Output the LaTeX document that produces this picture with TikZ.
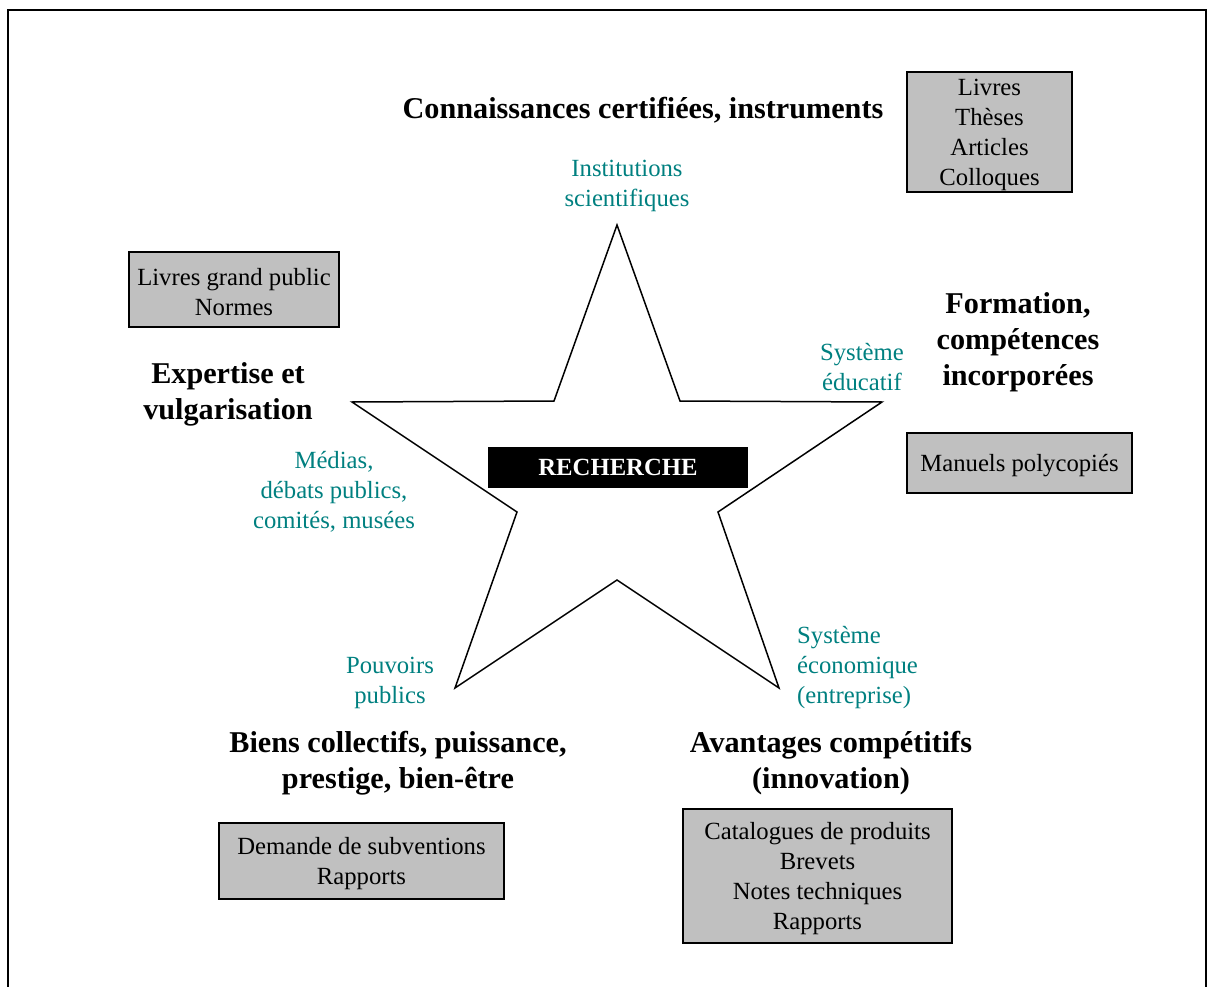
\documentclass[tikz,border=0pt]{standalone}
\usepackage{fontspec}
\setmainfont{Liberation Serif}
\definecolor{tealtxt}{RGB}{0,128,128}
\definecolor{boxgray}{RGB}{192,192,192}
\begin{document}
\begin{tikzpicture}[x=1pt,y=-1pt,
  body/.style={font=\fontsize{24.7}{30}\selectfont, align=center, inner sep=0pt, yshift=-3pt},
  head/.style={font=\bfseries\fontsize{30.2}{36}\selectfont, align=center, inner sep=0pt, yshift=-3pt},
  lab/.style={body, text=tealtxt},
  gbox/.style={draw, line width=2pt, fill=boxgray, inner sep=0pt},
  starline/.style={line width=1.5pt, line join=miter}]
\useasboundingbox (0,0) rectangle (1207,987);
% frame
\draw[line width=2pt] (8,987) -- (8,10) -- (1206,10) -- (1206,987);
% star
\coordinate (s1) at (617,225);
\coordinate (s2) at (680,401);
\coordinate (s3) at (882,402);
\coordinate (s4) at (718,512);
\coordinate (s5) at (779,688);
\coordinate (s6) at (617,580);
\coordinate (s7) at (455,688);
\coordinate (s8) at (517,512);
\coordinate (s9) at (352,402);
\coordinate (s10) at (554,401);
\draw[starline] (s1) -- (s2) -- (s3) -- (s4) -- (s5) -- (s6) -- (s7) -- (s8) -- (s9) -- (s10) -- cycle;
% centre
\node[fill=black, minimum width=260pt, minimum height=41pt, inner sep=0pt,
  text=white, font=\bfseries\fontsize{24.7}{30}\selectfont] (rech) at (618,467.5) {RECHERCHE};
% headings
\node[head] (h1) at (643,107) {Connaissances certifiées, instruments};
\node[head] (h2) at (228,391) {Expertise et\\vulgarisation};
\node[head] (h3) at (1018,339) {Formation,\\compétences\\incorporées};
\node[head] (h4) at (398,760) {Biens collectifs, puissance,\\prestige, bien-être};
\node[head] (h5) at (831,760) {Avantages compétitifs\\(innovation)};
% teal labels
\node[lab] (l1) at (627,183) {Institutions\\scientifiques};
\node[lab] (l2) at (862,364) {Système\\éducatif};
\node[lab] (l3) at (334,489) {Médias,\\débats publics,\\comités, musées};
\node[lab] (l4) at (390,680) {Pouvoirs\\publics};
\node[lab, align=left, anchor=west] (l5) at (797,665) {Système\\économique\\(entreprise)};
% grey boxes
\node[gbox, minimum width=165pt, minimum height=120pt] (b1) at (989.5,132) {};
\node[body] (t1) at (b1) {Livres\\Thèses\\Articles\\Colloques};
\node[gbox, minimum width=210pt, minimum height=75pt] (b2) at (234,289.5) {};
\node[body] (t2) at (b2) {Livres grand public\\Normes};
\node[gbox, minimum width=225pt, minimum height=60pt] (b3) at (1019.5,463) {};
\node[body] (t3) at (b3) {Manuels polycopiés};
\node[gbox, minimum width=285pt, minimum height=76pt] (b4) at (361.5,861) {};
\node[body] (t4) at (b4) {Demande de subventions\\Rapports};
\node[gbox, minimum width=269pt, minimum height=134pt] (b5) at (817.5,876) {};
\node[body] (t5) at (b5) {Catalogues de produits\\Brevets\\Notes techniques\\Rapports};
\end{tikzpicture}
\end{document}
